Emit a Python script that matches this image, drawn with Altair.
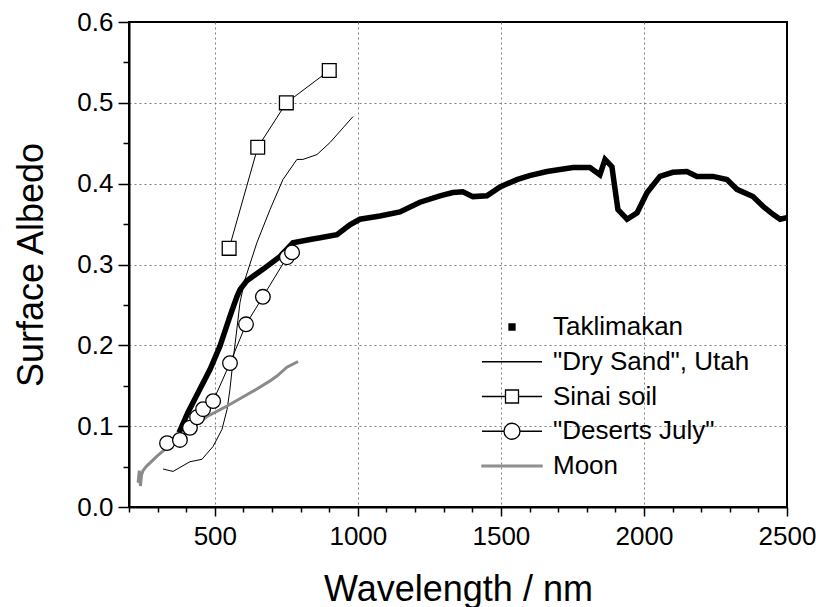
import altair as alt
import pandas as pd

# ---------------- data ----------------
names = ["Taklimakan", '"Dry Sand", Utah', "Sinai soil", '"Deserts July"', "Moon"]

tak_wl = [375, 406, 448, 483, 518, 553, 577, 588, 612, 668, 728, 773, 833, 868, 927,
          972, 1007, 1077, 1147, 1217, 1287, 1332, 1367, 1402, 1451, 1497, 1556, 1600,
          1661, 1752, 1811, 1846, 1864, 1888, 1899, 1909, 1941, 1976, 2011, 2056, 2101,
          2150, 2185, 2241, 2290, 2325, 2381, 2416, 2451, 2476, 2500]
tak_alb = [0.092, 0.117, 0.146, 0.170, 0.199, 0.236, 0.260, 0.269, 0.280, 0.294, 0.310,
           0.327, 0.331, 0.333, 0.337, 0.349, 0.356, 0.360, 0.365, 0.377, 0.385, 0.389,
           0.390, 0.384, 0.385, 0.396, 0.405, 0.410, 0.415, 0.420, 0.420, 0.411, 0.430,
           0.421, 0.393, 0.368, 0.356, 0.364, 0.389, 0.409, 0.414, 0.415, 0.409, 0.409,
           0.405, 0.393, 0.384, 0.372, 0.362, 0.356, 0.358]

sand_wl = [319, 354, 413, 455, 494, 525, 543, 553, 563, 577, 588, 605, 647, 693, 738,
           787, 808, 857, 903, 948, 983]
sand_alb = [0.047, 0.044, 0.056, 0.059, 0.075, 0.096, 0.121, 0.146, 0.179, 0.220, 0.253,
            0.281, 0.327, 0.368, 0.405, 0.430, 0.430, 0.436, 0.451, 0.469, 0.483]

sinai_wl = [550, 650, 750, 900]
sinai_alb = [0.32, 0.445, 0.50, 0.54]

des_wl = [333, 378, 413, 438, 459, 494, 553, 609, 668, 752, 770]
des_alb = [0.079, 0.083, 0.098, 0.111, 0.121, 0.131, 0.178, 0.226, 0.260, 0.309, 0.315]

moon_wl = [232, 236, 240, 244, 249, 260, 298, 354, 413, 473, 543, 598, 647, 693, 717,
           752, 791]
moon_alb = [0.030, 0.045, 0.026, 0.040, 0.045, 0.050, 0.063, 0.080, 0.096, 0.112, 0.125,
            0.136, 0.146, 0.156, 0.162, 0.173, 0.180]

# legend symbols (custom paths), fills and strokes
legend_shapes = [
    "M-0.3,-0.3H0.3V0.3H-0.3Z",
    "M-3,0H3",
    "M-3,0H-0.65M0.65,0H3M-0.65,-0.65H0.65V0.65H-0.65Z",
    "M-3,0H-0.8M0.8,0H3M-0.8,0A0.8,0.8 0 1,0 0.8,0A0.8,0.8 0 1,0 -0.8,0Z",
    "M-3,-0.08H3V0.08H-3Z",
]
legend_fills = ["black", "transparent", "white", "white", "#8a8a8a"]
legend_strokes = ["black", "black", "black", "black", "#8a8a8a"]

rows = []
for name, wl, alb in [(names[0], tak_wl, tak_alb), (names[1], sand_wl, sand_alb),
                      (names[2], sinai_wl, sinai_alb), (names[3], des_wl, des_alb),
                      (names[4], moon_wl, moon_alb)]:
    for w, a in zip(wl, alb):
        rows.append({"series": name, "wl": w, "alb": a})
df = pd.DataFrame(rows)

FONT = "Liberation Sans"
x_ticks = list(range(200, 2501, 100))
y_ticks = [round(i * 0.05, 2) for i in range(13)]

x_axis = alt.Axis(
    values=x_ticks, format="d", title="Wavelength / nm",
    labelExpr="datum.value % 500 === 0 ? datum.label : ''",
    tickSize={"condition": {"test": "datum.value % 500 === 0", "value": 9}, "value": 5},
    grid=True, gridColor="#7f7f7f", gridDash=[2, 3], gridWidth=1,
    gridOpacity={"condition": {"test": "datum.value % 500 === 0 && datum.value < 2500", "value": 1}, "value": 0},
    labelPadding=7, labelFlush=False, labelOverlap=False, labelBound=False,
    titleX=329, titleY=93, titleBaseline="alphabetic", titleAlign="center",
)
y_axis = alt.Axis(
    values=y_ticks, title="Surface Albedo",
    labelExpr="round(datum.value * 100) % 10 === 0 ? format(datum.value, '.1f') : ''",
    tickSize={"condition": {"test": "round(datum.value * 100) % 10 === 0", "value": 11}, "value": 6},
    grid=True, gridColor="#7f7f7f", gridDash=[2, 3], gridWidth=1,
    gridOpacity={"condition": {"test": "round(datum.value * 100) % 10 === 0 && datum.value > 0.01 && datum.value < 0.59", "value": 1}, "value": 0},
    labelPadding=5, labelFlush=False, labelOverlap=False, labelBound=False,
    titleX=-87, titleY=242.5, titleAngle=-90, titleBaseline="alphabetic", titleAlign="center",
)

base = alt.Chart(df).encode(
    x=alt.X("wl:Q", scale=alt.Scale(domain=[200, 2500], nice=False, zero=False), axis=x_axis),
    y=alt.Y("alb:Q", scale=alt.Scale(domain=[0, 0.6], nice=False, zero=False), axis=y_axis),
)


def only(name):
    return alt.FieldEqualPredicate(field="series", equal=name)


sand = base.transform_filter(only(names[1])).mark_line(color="black", strokeWidth=1)
tak = base.transform_filter(only(names[0])).mark_line(color="black", strokeWidth=5.5)
moon = base.transform_filter(only(names[4])).mark_line(color="#8a8a8a", strokeWidth=3)
sinai_line = base.transform_filter(only(names[2])).mark_line(color="black", strokeWidth=1)
des_line = base.transform_filter(only(names[3])).mark_line(color="black", strokeWidth=1)
sinai_pts = base.transform_filter(only(names[2])).mark_point(
    shape="square", size=190, filled=True, fill="white", stroke="black", strokeWidth=1.3, opacity=1)
des_pts = base.transform_filter(only(names[3])).mark_point(
    shape="circle", size=215, filled=True, fill="white", stroke="black", strokeWidth=1.3, opacity=1)

leg = alt.Legend(
    orient="none", legendX=370, legendY=292, title=None, padding=0,
    labelFont=FONT, labelFontSize=26, labelColor="black", labelOffset=28, labelLimit=400,
    symbolSize=400, symbolStrokeWidth=1.3, symbolOpacity=1, rowPadding=8.75,
)
legend_layer = base.transform_filter(only(names[2])).mark_point(opacity=0, filled=True).encode(
    shape=alt.Shape("series:N", scale=alt.Scale(domain=names, range=legend_shapes), legend=leg),
    fill=alt.Fill("series:N", scale=alt.Scale(domain=names, range=legend_fills), legend=leg),
    stroke=alt.Stroke("series:N", scale=alt.Scale(domain=names, range=legend_strokes), legend=leg),
)

chart = alt.layer(sand, tak, moon, sinai_line, des_line, sinai_pts, des_pts, legend_layer).properties(
    width=658, height=485,
    padding={"left": 129, "top": 22, "right": 29, "bottom": 100},
    autosize=alt.AutoSizeParams(type="none"),
).configure_view(
    stroke="black", strokeWidth=2,
).configure_axis(
    domainColor="black", domainWidth=2, tickColor="black", tickWidth=1.5,
    labelFont=FONT, labelFontSize=26, labelColor="black",
    titleFont=FONT, titleFontSize=36, titleFontWeight="normal", titleColor="black",
)

chart.save("out.html", embed_options={"renderer": "svg", "actions": False})
